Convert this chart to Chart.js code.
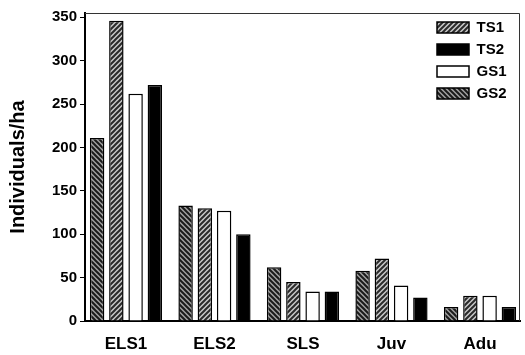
<!DOCTYPE html>
<html>
<head>
<meta charset="utf-8">
<script src="https://cdn.jsdelivr.net/npm/chart.js@4.4.1/dist/chart.umd.min.js"></script>
<style>
html,body{margin:0;padding:0;background:#fff;}
#wrap{width:525px;height:355px;position:relative;}
</style>
</head>
<body>
<div id="wrap"><canvas id="c" width="525" height="355"></canvas></div>
<script>
const categories = ['ELS1', 'ELS2', 'SLS', 'Juv', 'Adu'];
const seriesNames = ['GS2', 'TS1', 'GS1', 'TS2'];
const gs2 = [211, 133, 62, 58, 16];
const ts1 = [346, 130, 45, 72, 29];
const gs1 = [262, 127, 34, 41, 29];
const ts2 = [272, 100, 34, 27, 16];
const legendOrder = ['TS1', 'TS2', 'GS1', 'GS2'];
const yTicks = [0, 50, 100, 150, 200, 250, 300, 350];
const yTitle = 'Individuals/ha';

function hatch(dir, bg, fg) {
  const s = 5;
  const cv = document.createElement('canvas');
  cv.width = s; cv.height = s;
  const g = cv.getContext('2d');
  g.fillStyle = bg; g.fillRect(0, 0, s, s);
  g.strokeStyle = fg; g.lineWidth = 2;
  g.beginPath();
  if (dir > 0) {
    g.moveTo(-1, s + 1); g.lineTo(s + 1, -1);
    g.moveTo(-1, 1); g.lineTo(1, -1);
    g.moveTo(s - 1, s + 1); g.lineTo(s + 1, s - 1);
  } else {
    g.moveTo(-1, -1); g.lineTo(s + 1, s + 1);
    g.moveTo(s - 1, -1); g.lineTo(s + 1, 1);
    g.moveTo(-1, s - 1); g.lineTo(1, s + 1);
  }
  g.stroke();
  return g.createPattern(cv, 'repeat');
}
const ctx = document.getElementById('c').getContext('2d');
const styles = {
  GS2: { bg: hatch(-1, '#a0a0a0', '#1a1a1a'), border: '#000' },
  TS1: { bg: hatch(1, '#c8c8c8', '#2a2a2a'), border: '#000' },
  GS1: { bg: '#ffffff', border: '#000' },
  TS2: { bg: '#000000', border: '#000' }
};
const values = { GS2: gs2, TS1: ts1, GS1: gs1, TS2: ts2 };

const datasets = seriesNames.map(n => ({
  label: n,
  data: values[n].map((v, i) => ({ x: i, y: v })),
  backgroundColor: styles[n].bg,
  borderColor: styles[n].border,
  borderWidth: 1.5,
  categoryPercentage: 0.87,
  barPercentage: 0.75
}));

const framePlugin = {
  id: 'frame',
  afterLayout(chart) {
    const lg = chart.legend;
    if (!lg) return;
    const dx = 430 - lg.left;
    const dy = 13 - lg.top;
    lg.left += dx; lg.right += dx;
    lg.top += dy; lg.bottom += dy;
  },
  beforeDatasetsDraw(chart) {
    const { ctx, chartArea: a } = chart;
    ctx.save();
    ctx.strokeStyle = '#333';
    ctx.lineWidth = 1;
    ctx.beginPath();
    ctx.moveTo(a.left, a.top + 0.5);
    ctx.lineTo(a.right - 0.5, a.top + 0.5);
    ctx.lineTo(a.right - 0.5, a.bottom);
    ctx.stroke();
    ctx.restore();
  }
};

new Chart(ctx, {
  type: 'bar',
  data: { datasets },
  plugins: [framePlugin],
  options: {
    responsive: false,
    animation: false,
    layout: { padding: { left: 0, right: 5, top: 13, bottom: 0 } },
    plugins: {
      legend: {
        position: 'chartArea',
        align: 'start',
        labels: {
          boxWidth: 32,
          boxHeight: 11,
          padding: 7,
          color: '#000',
          font: { family: 'Liberation Sans', weight: 'bold', size: 15 },
          sort: (a, b) => legendOrder.indexOf(a.text) - legendOrder.indexOf(b.text)
        }
      },
      tooltip: { enabled: false }
    },
    scales: {
      x: {
        type: 'linear',
        min: -0.463,
        max: 4.452,
        offset: false,
        grid: { display: false },
        border: { display: true, color: '#000', width: 2 },
        afterBuildTicks(s) { s.ticks = categories.map((c, i) => ({ value: i })); },
        ticks: {
          color: '#000',
          padding: 5,
          autoSkip: false,
          maxRotation: 0,
          callback: (v) => categories[v],
          font: { family: 'Liberation Sans', weight: 'bold', size: 17 }
        },
        afterFit(s) { s.height = 34; }
      },
      y: {
        min: 0,
        max: 355,
        grid: { display: true, drawOnChartArea: false, tickLength: 5, color: '#000', lineWidth: 1 },
        border: { display: true, color: '#000', width: 2 },
        afterBuildTicks(s) { s.ticks = yTicks.map(v => ({ value: v })); },
        ticks: {
          color: '#000',
          padding: 3,
          font: { family: 'Liberation Sans', weight: 'bold', size: 15 }
        },
        title: {
          display: true,
          text: yTitle,
          color: '#000',
          padding: { top: 6, bottom: 4 },
          font: { family: 'Liberation Sans', weight: 'bold', size: 20 }
        },
        afterFit(s) { s.width = 85; }
      }
    }
  }
});
</script>
</body>
</html>
